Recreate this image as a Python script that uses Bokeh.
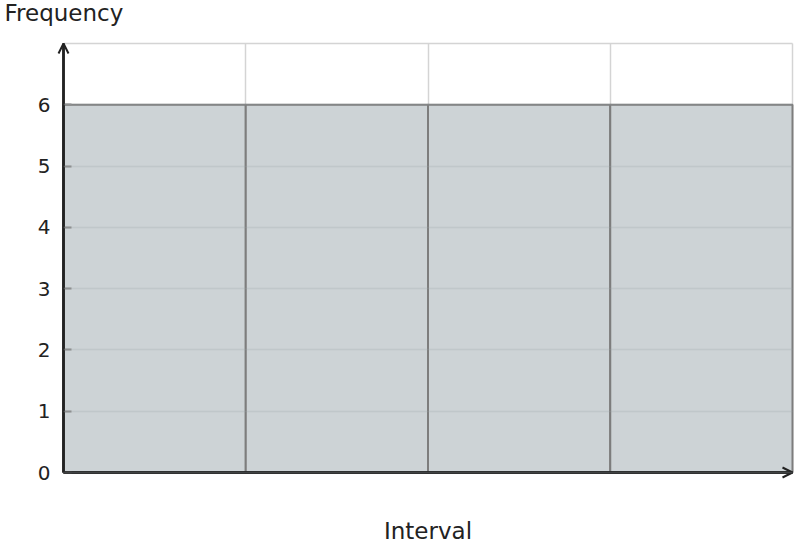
from bokeh.plotting import figure
from bokeh.models import Range1d, FixedTicker, Arrow, OpenHead, Label
from bokeh.embed import file_html
from bokeh.resources import INLINE

# Data
bin_edges = [0, 1, 2, 3, 4]
counts = [6, 6, 6, 6]
y_ticks = [0, 1, 2, 3, 4, 5, 6]
y_max = 7
x_label = "Interval"
y_label = "Frequency"

FONT = "DejaVu Sans"
AX = "#222222"
BORDER = "#d4d4d4"

# Layout: the frame covers the whole canvas; the data area sits inside it
W, H = 796, 548
LEFT, RIGHT, TOP, BOTTOM = 63, 792, 43, 472     # pixel box of the data area
sx = (RIGHT - LEFT) / (bin_edges[-1] - bin_edges[0])
sy = (BOTTOM - TOP) / y_max
x_range = Range1d(bin_edges[0] - LEFT / sx, bin_edges[-1] + (W - RIGHT) / sx)
y_range = Range1d(-(H - BOTTOM) / sy, y_max + TOP / sy)

p = figure(width=W, height=H, output_backend="svg", toolbar_location=None,
           x_range=x_range, y_range=y_range, min_border=0)
p.min_border_left = p.min_border_right = p.min_border_top = p.min_border_bottom = 0
p.background_fill_color = "white"
p.border_fill_color = "white"
p.outline_line_color = None

p.quad(left=bin_edges[:-1], right=bin_edges[1:], bottom=0, top=counts,
       fill_color="#cdd3d6", line_color="#7d7d7d", line_width=2)

# top border of the plotting area
p.segment(x0=[bin_edges[0]], y0=[y_max], x1=[bin_edges[-1]], y1=[y_max],
          line_color=BORDER, line_width=1.5)

# Grids
p.xgrid.ticker = FixedTicker(ticks=bin_edges)
p.xgrid.cross_bounds = (0, y_max)
p.xgrid.grid_line_color = BORDER
p.xgrid.grid_line_width = 1.5
p.ygrid.ticker = FixedTicker(ticks=y_ticks)
p.ygrid.cross_bounds = (bin_edges[0], bin_edges[-1])
p.ygrid.grid_line_color = "#9aa3a8"
p.ygrid.grid_line_alpha = 0.25
p.ygrid.grid_line_width = 1.5
p.ygrid.level = "overlay"

# Y axis
ya = p.yaxis[0]
ya.fixed_location = bin_edges[0]
ya.bounds = (0, y_max)
ya.ticker = FixedTicker(ticks=y_ticks)
ya.axis_line_color = AX
ya.axis_line_width = 2.5
ya.major_tick_in = 8
ya.major_tick_out = 0
ya.major_tick_line_color = "#8a8a8a"
ya.major_tick_line_width = 2
ya.minor_tick_line_color = None
ya.major_label_text_font = FONT
ya.major_label_text_font_size = "20px"
ya.major_label_text_color = AX
ya.major_label_standoff = 13

# X axis
xa = p.xaxis[0]
xa.fixed_location = 0
xa.bounds = (bin_edges[0], bin_edges[-1])
xa.ticker = FixedTicker(ticks=[])
xa.axis_line_color = AX
xa.axis_line_width = 2.5
xa.major_tick_line_color = None
xa.minor_tick_line_color = None
xa.major_label_text_font_size = "0px"
xa.axis_label = x_label
xa.axis_label_text_font = FONT
xa.axis_label_text_font_size = "23px"
xa.axis_label_text_font_style = "normal"
xa.axis_label_text_color = AX
xa.axis_label_standoff = 45

# Axis arrows
p.add_layout(Arrow(end=OpenHead(size=10, line_width=2, line_color=AX),
                   x_start=bin_edges[0], y_start=0, x_end=bin_edges[-1], y_end=0,
                   line_color=AX, line_width=2.5))
p.add_layout(Arrow(end=OpenHead(size=10, line_width=2, line_color=AX),
                   x_start=bin_edges[0], y_start=0, x_end=bin_edges[0], y_end=y_max,
                   line_color=AX, line_width=2.5))

# Y label at the top left
p.add_layout(Label(x=x_range.start + 4 / sx, y=y_range.end - 12 / sy, text=y_label,
                   text_font=FONT, text_font_size="23px", text_color=AX,
                   text_baseline="middle", text_align="left"))

open("out.html", "w").write(file_html(p, INLINE))
